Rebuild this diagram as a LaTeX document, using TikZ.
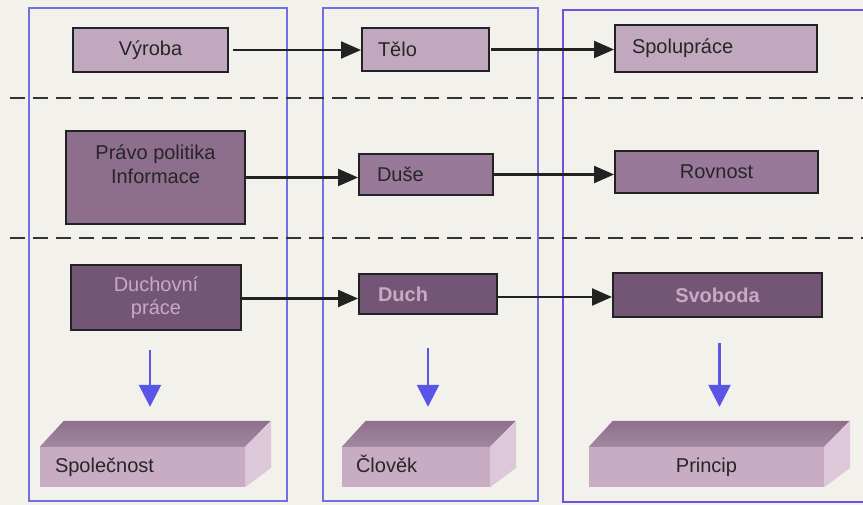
\documentclass[tikz,border=0pt]{standalone}
\usepackage{fontspec}
\setmainfont{Liberation Sans}
\usetikzlibrary{arrows.meta}
\definecolor{paper}{HTML}{F2F1EB}
\definecolor{frameblue}{HTML}{6F70E4}
\definecolor{framepurple}{HTML}{7650DC}
\definecolor{sepgray}{HTML}{333333}
\definecolor{edge}{HTML}{222222}
\definecolor{ink}{HTML}{262626}
\definecolor{plumlite}{HTML}{C2A8BF}
\definecolor{plummid}{HTML}{98799A}
\definecolor{plumdeep}{HTML}{8E6E8D}
\definecolor{plumdark}{HTML}{735575}
\definecolor{plumtext}{HTML}{C8AAC7}
\definecolor{topback}{HTML}{8E6F8C}
\definecolor{topfront}{HTML}{A388A0}
\definecolor{frontface}{HTML}{C7ACC4}
\definecolor{sideface}{HTML}{DCC8D8}
\definecolor{downblue}{HTML}{5A55E6}
\begin{document}
\begin{tikzpicture}[x=1pt,y=1pt]
\tikzstyle{every node}+=[inner sep=0pt,font=\fontsize{20}{24}\selectfont,text=ink]
\tikzstyle{box}=[draw=edge,line width=2pt,rectangle]
\tikzstyle{litebox}=[box,fill=plumlite]
\tikzstyle{midbox}=[box,fill=plummid]
\tikzstyle{darkbox}=[box,fill=plumdark,text=plumtext,font=\fontsize{20}{24}\selectfont\bfseries]
\tikzstyle{link}=[draw=edge,line width=2.2pt,-{Triangle[length=20pt,width=17pt]}]
\tikzstyle{down}=[draw=downblue,line width=2.5pt,-{Triangle[length=22pt,width=22pt]}]
\tikzstyle{sep}=[draw=sepgray,line width=2.5pt,dash pattern=on 15pt off 8pt]
\tikzstyle{front}=[fill=frontface,minimum height=40pt,text height=15pt,text depth=5pt]
\useasboundingbox (0,0) rectangle (863,-505);
\fill[paper] (0,0) rectangle (863,-505);
\draw[frameblue,line width=2pt] (29,-8) rectangle (287,-501);
\draw[frameblue,line width=2pt] (323,-8) rectangle (538,-501);
\draw[framepurple,line width=2.5pt] (563,-10) rectangle (880,-502);
\draw[sep] (10,-98) -- (863,-98);
\draw[sep] (10,-238) -- (863,-238);
\node[litebox,minimum width=155pt,minimum height=44pt] (vyroba) at (150.5,-50) {Výroba};
\node[litebox,inner xsep=16pt,text width=95pt,align=left,minimum height=43pt] (telo) at (425.5,-49.5) {Tělo};
\node[litebox,inner xsep=17pt,text width=168pt,align=left,minimum height=47pt] (spoluprace) at (716,-48.5) {Spolupráce};
\node[box,fill=plumdeep,minimum width=179pt,minimum height=93pt] (pravo) at (155.5,-177.5) {\raisebox{41pt}{\begin{tabular}{@{}c@{}}Právo politika\\Informace\end{tabular}}};
\node[midbox,inner xsep=18pt,text width=98pt,align=left,minimum height=41pt] (duse) at (426,-174.5) {Duše};
\node[midbox,minimum width=203pt,minimum height=42pt] (rovnost) at (716.5,-172) {Rovnost};
\node[darkbox,font=\fontsize{20}{23}\selectfont,minimum width=170pt,minimum height=65pt,align=center] (duchovni) at (156,-297.5) {Duchovní\\práce};
\node[darkbox,inner xsep=19pt,text width=100pt,align=left,minimum height=40pt] (duch) at (428,-294) {Duch};
\node[darkbox,minimum width=209pt,minimum height=44pt] (svoboda) at (717.5,-295) {Svoboda};
\node[front,inner xsep=15pt,text width=175pt,align=left] (spolecnost) at (142.5,-467) {Společnost};
\node[front,inner xsep=14pt,text width=120pt,align=left] (clovek) at (416,-467) {Člověk};
\node[front,minimum width=235pt] (princip) at (706.5,-467) {Princip};
\shade[top color=topback,bottom color=topfront] (spolecnost.north west) -- ++(24,26) -- ++(207,0) -- (spolecnost.north east) -- cycle;
\fill[sideface] (spolecnost.north east) -- ++(26,26) -- ++(0,-47) -- (spolecnost.south east) -- cycle;
\shade[top color=topback,bottom color=topfront] (clovek.north west) -- ++(24,26) -- ++(150,0) -- (clovek.north east) -- cycle;
\fill[sideface] (clovek.north east) -- ++(26,26) -- ++(0,-47) -- (clovek.south east) -- cycle;
\shade[top color=topback,bottom color=topfront] (princip.north west) -- ++(24,26) -- ++(237,0) -- (princip.north east) -- cycle;
\fill[sideface] (princip.north east) -- ++(26,26) -- ++(0,-47) -- (princip.south east) -- cycle;
\draw[link,shorten <=4pt] (vyroba.east) -- (vyroba.east -| telo.west);
\draw[link,shorten <=1pt] (telo.east) -- (telo.east -| spoluprace.west);
\draw[link] (pravo.east) -- (pravo.east -| duse.west);
\draw[link] (duse.east) -- (duse.east -| rovnost.west);
\draw[link] ([yshift=-1pt]duchovni.east) -- ([yshift=-1pt]duchovni.east -| duch.west);
\draw[link] ([yshift=-3pt]duch.east) -- ([yshift=-3pt]duch.east -| svoboda.west);
\draw[down,shorten <=19pt,shorten >=40pt] ([xshift=-6pt]duchovni.south) -- ([xshift=-6pt]duchovni.south |- spolecnost.north);
\draw[down,shorten <=33pt,shorten >=40pt] (duch.south) -- (duch.south |- clovek.north);
\draw[down,shorten <=25pt,shorten >=40pt] ([xshift=2pt]svoboda.south) -- ([xshift=2pt]svoboda.south |- princip.north);
\end{tikzpicture}
\end{document}
